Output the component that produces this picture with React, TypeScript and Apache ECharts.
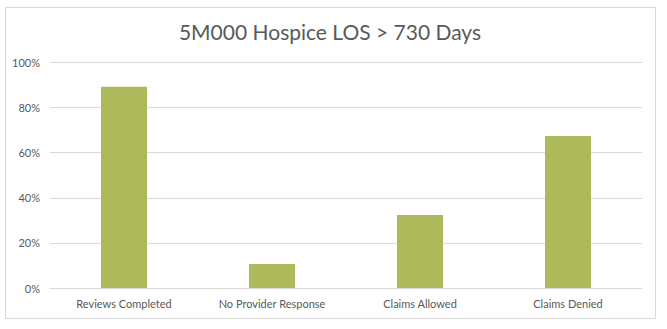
import React, { useEffect, useRef } from "react";
import * as echarts from "echarts";

const categories = ["Reviews Completed", "No Provider Response", "Claims Allowed", "Claims Denied"];
const values = [0.893, 0.106, 0.324, 0.674];
const titleText = "5M000 Hospice LOS > 730 Days";

export default function App() {
  const ref = useRef<HTMLDivElement>(null);
  useEffect(() => {
    if (!ref.current) return;
    const chart = echarts.init(ref.current, undefined, { renderer: "svg" });
    chart.setOption({
      animation: false,
      backgroundColor: "#ffffff",
      graphic: [
        {
          type: "rect",
          shape: { x: 5.5, y: 7.5, width: 650, height: 311 },
          style: { fill: "none", stroke: "#d9d9d9", lineWidth: 1 },
          silent: true,
        },
        {
          type: "text",
          x: 330,
          y: 31.5,
          style: {
            text: titleText,
            fontFamily: "Lato",
            fontSize: 21,
            fill: "#595959",
            align: "center",
            verticalAlign: "middle",
          },
        },
      ],
      grid: { left: 50, right: 25, top: 62.5, bottom: 41, containLabel: false },
      xAxis: {
        type: "category",
        data: categories,
        axisLine: { lineStyle: { color: "#d9d9d9" } },
        axisTick: { show: false },
        axisLabel: { color: "#595959", fontFamily: "Lato", fontSize: 11, margin: 10, interval: 0 },
      },
      yAxis: {
        type: "value",
        min: 0,
        max: 1,
        interval: 0.2,
        axisLine: { show: false },
        axisTick: { show: false },
        splitLine: { lineStyle: { color: "#d9d9d9" } },
        axisLabel: {
          color: "#595959",
          fontFamily: "Lato",
          fontSize: 11,
          margin: 10,
          formatter: (v: number) => Math.round(v * 100) + "%",
        },
      },
      series: [
        {
          type: "bar",
          data: values,
          barWidth: 46,
          itemStyle: { color: "#adb95b" },
        },
      ],
    });
    return () => chart.dispose();
  }, []);
  return (
    <div
      ref={ref}
      style={{ position: "fixed", left: 0, top: 0, width: 667, height: 329, background: "#fff" }}
    />
  );
}
